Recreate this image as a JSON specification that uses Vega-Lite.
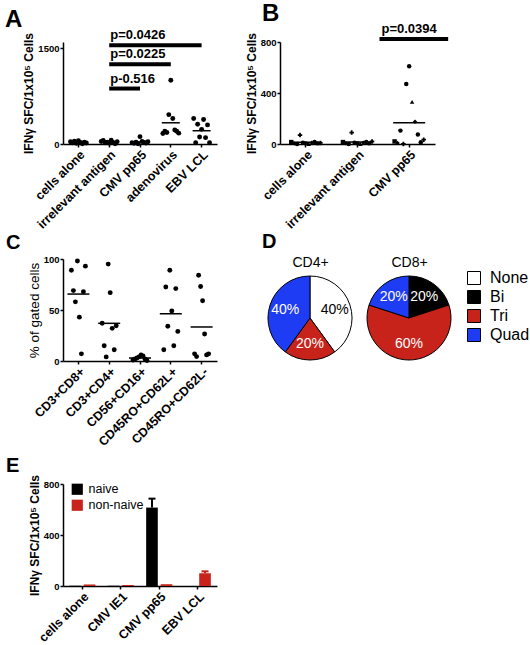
{
 "$schema": "https://vega.github.io/schema/vega-lite/v6.json",
 "background": "white",
 "padding": {"left": 5, "top": 2, "right": 5, "bottom": 2},
 "columns": 2,
 "bounds": "flush",
 "spacing": {"row": 115, "column": 63},
 "resolve": {"scale": {"color": "independent", "fill": "independent", "shape": "independent", "xOffset": "independent", "theta": "independent"}, "legend": {"color": "independent", "fill": "independent"}},
 "datasets": {
  "a": [
   {"cat": "cells alone", "donor": 1, "v": 35}, {"cat": "cells alone", "donor": 2, "v": 20}, {"cat": "cells alone", "donor": 3, "v": 45}, {"cat": "cells alone", "donor": 4, "v": 10}, {"cat": "cells alone", "donor": 5, "v": 50}, {"cat": "cells alone", "donor": 6, "v": 25}, {"cat": "cells alone", "donor": 7, "v": 5}, {"cat": "cells alone", "donor": 8, "v": 30}, {"cat": "cells alone", "donor": 9, "v": 15},
   {"cat": "irrelevant antigen", "donor": 1, "v": 40}, {"cat": "irrelevant antigen", "donor": 2, "v": 55}, {"cat": "irrelevant antigen", "donor": 3, "v": 20}, {"cat": "irrelevant antigen", "donor": 4, "v": 30}, {"cat": "irrelevant antigen", "donor": 5, "v": 10}, {"cat": "irrelevant antigen", "donor": 6, "v": 60}, {"cat": "irrelevant antigen", "donor": 7, "v": 25}, {"cat": "irrelevant antigen", "donor": 8, "v": 5}, {"cat": "irrelevant antigen", "donor": 9, "v": 35},
   {"cat": "CMV pp65", "donor": 1, "v": 20}, {"cat": "CMV pp65", "donor": 2, "v": 10}, {"cat": "CMV pp65", "donor": 3, "v": 30}, {"cat": "CMV pp65", "donor": 4, "v": 5}, {"cat": "CMV pp65", "donor": 5, "v": 115}, {"cat": "CMV pp65", "donor": 6, "v": 40}, {"cat": "CMV pp65", "donor": 7, "v": 25}, {"cat": "CMV pp65", "donor": 8, "v": 15}, {"cat": "CMV pp65", "donor": 9, "v": 35},
   {"cat": "adenovirus", "donor": 1, "v": 165}, {"cat": "adenovirus", "donor": 2, "v": 200}, {"cat": "adenovirus", "donor": 3, "v": 180}, {"cat": "adenovirus", "donor": 4, "v": 460}, {"cat": "adenovirus", "donor": 5, "v": 1000}, {"cat": "adenovirus", "donor": 6, "v": 400}, {"cat": "adenovirus", "donor": 7, "v": 220}, {"cat": "adenovirus", "donor": 8, "v": 200}, {"cat": "adenovirus", "donor": 9, "v": 170},
   {"cat": "EBV LCL", "donor": 1, "v": 400}, {"cat": "EBV LCL", "donor": 2, "v": 20}, {"cat": "EBV LCL", "donor": 3, "v": 310}, {"cat": "EBV LCL", "donor": 4, "v": 110}, {"cat": "EBV LCL", "donor": 5, "v": 230}, {"cat": "EBV LCL", "donor": 6, "v": 385}, {"cat": "EBV LCL", "donor": 7, "v": 100}, {"cat": "EBV LCL", "donor": 8, "v": 300}, {"cat": "EBV LCL", "donor": 9, "v": 20}
  ],
  "sigA": [
   {"from": "irrelevant antigen", "to": "CMV pp65", "val": 870, "label": "p-0.516"},
   {"from": "irrelevant antigen", "to": "adenovirus", "val": 1250, "label": "p=0.0225"},
   {"from": "irrelevant antigen", "to": "EBV LCL", "val": 1550, "label": "p=0.0426"}
  ],
  "b": [
   {"cat": "cells alone", "donor": 1, "v": 15}, {"cat": "cells alone", "donor": 2, "v": 5}, {"cat": "cells alone", "donor": 3, "v": 0}, {"cat": "cells alone", "donor": 4, "v": 70}, {"cat": "cells alone", "donor": 5, "v": 10}, {"cat": "cells alone", "donor": 6, "v": 5}, {"cat": "cells alone", "donor": 7, "v": 0}, {"cat": "cells alone", "donor": 8, "v": 10}, {"cat": "cells alone", "donor": 9, "v": 15}, {"cat": "cells alone", "donor": 10, "v": 5}, {"cat": "cells alone", "donor": 11, "v": 8},
   {"cat": "irrelevant antigen", "donor": 1, "v": 15}, {"cat": "irrelevant antigen", "donor": 2, "v": 5}, {"cat": "irrelevant antigen", "donor": 3, "v": 0}, {"cat": "irrelevant antigen", "donor": 4, "v": 90}, {"cat": "irrelevant antigen", "donor": 5, "v": 10}, {"cat": "irrelevant antigen", "donor": 6, "v": 5}, {"cat": "irrelevant antigen", "donor": 7, "v": 0}, {"cat": "irrelevant antigen", "donor": 8, "v": 10}, {"cat": "irrelevant antigen", "donor": 9, "v": 15}, {"cat": "irrelevant antigen", "donor": 10, "v": 5}, {"cat": "irrelevant antigen", "donor": 11, "v": 20},
   {"cat": "CMV pp65", "donor": 1, "v": 20}, {"cat": "CMV pp65", "donor": 2, "v": 8}, {"cat": "CMV pp65", "donor": 3, "v": 105}, {"cat": "CMV pp65", "donor": 4, "v": 0}, {"cat": "CMV pp65", "donor": 5, "v": 470}, {"cat": "CMV pp65", "donor": 6, "v": 610}, {"cat": "CMV pp65", "donor": 7, "v": 330}, {"cat": "CMV pp65", "donor": 8, "v": 175}, {"cat": "CMV pp65", "donor": 9, "v": 75}, {"cat": "CMV pp65", "donor": 10, "v": 13}, {"cat": "CMV pp65", "donor": 11, "v": 34}
  ],
  "sigB": [
   {"from": "irrelevant antigen", "to": "CMV pp65", "val": 823, "label": "p=0.0394"}
  ],
  "c": [
   {"cat": "CD3+CD8+", "donor": 1, "v": 89}, {"cat": "CD3+CD8+", "donor": 2, "v": 69}, {"cat": "CD3+CD8+", "donor": 3, "v": 58}, {"cat": "CD3+CD8+", "donor": 4, "v": 98}, {"cat": "CD3+CD8+", "donor": 5, "v": 43}, {"cat": "CD3+CD8+", "donor": 6, "v": 7}, {"cat": "CD3+CD8+", "donor": 7, "v": 68}, {"cat": "CD3+CD8+", "donor": 8, "v": 93},
   {"cat": "CD3+CD4+", "donor": 1, "v": 37}, {"cat": "CD3+CD4+", "donor": 2, "v": 15}, {"cat": "CD3+CD4+", "donor": 3, "v": 4}, {"cat": "CD3+CD4+", "donor": 4, "v": 95}, {"cat": "CD3+CD4+", "donor": 5, "v": 67}, {"cat": "CD3+CD4+", "donor": 6, "v": 32}, {"cat": "CD3+CD4+", "donor": 7, "v": 11}, {"cat": "CD3+CD4+", "donor": 8, "v": 34.5},
   {"cat": "CD56+CD16+", "donor": 1, "v": 1}, {"cat": "CD56+CD16+", "donor": 2, "v": 2}, {"cat": "CD56+CD16+", "donor": 3, "v": 3}, {"cat": "CD56+CD16+", "donor": 4, "v": 4}, {"cat": "CD56+CD16+", "donor": 5, "v": 6}, {"cat": "CD56+CD16+", "donor": 6, "v": 5}, {"cat": "CD56+CD16+", "donor": 7, "v": 2}, {"cat": "CD56+CD16+", "donor": 8, "v": 0.5},
   {"cat": "CD45RO+CD62L+", "donor": 1, "v": 11}, {"cat": "CD45RO+CD62L+", "donor": 2, "v": 72.5}, {"cat": "CD45RO+CD62L+", "donor": 3, "v": 34}, {"cat": "CD45RO+CD62L+", "donor": 4, "v": 89}, {"cat": "CD45RO+CD62L+", "donor": 5, "v": 49}, {"cat": "CD45RO+CD62L+", "donor": 6, "v": 15}, {"cat": "CD45RO+CD62L+", "donor": 7, "v": 71}, {"cat": "CD45RO+CD62L+", "donor": 8, "v": 29},
   {"cat": "CD45RO+CD62L-", "donor": 1, "v": 7}, {"cat": "CD45RO+CD62L-", "donor": 2, "v": 4.3}, {"cat": "CD45RO+CD62L-", "donor": 3, "v": 84}, {"cat": "CD45RO+CD62L-", "donor": 4, "v": 73}, {"cat": "CD45RO+CD62L-", "donor": 5, "v": 59}, {"cat": "CD45RO+CD62L-", "donor": 6, "v": 26.5}, {"cat": "CD45RO+CD62L-", "donor": 7, "v": 6}, {"cat": "CD45RO+CD62L-", "donor": 8, "v": 7}
  ],
  "d": [
   {"cell": "CD4+", "func": "None", "pct": 0.4, "idx": 1},
   {"cell": "CD4+", "func": "Tri", "pct": 0.2, "idx": 3},
   {"cell": "CD4+", "func": "Quad", "pct": 0.4, "idx": 4},
   {"cell": "CD8+", "func": "Bi", "pct": 0.2, "idx": 2},
   {"cell": "CD8+", "func": "Tri", "pct": 0.6, "idx": 3},
   {"cell": "CD8+", "func": "Quad", "pct": 0.2, "idx": 4}
  ],
  "e": [
   {"cat": "cells alone", "type": "naive", "v": 2}, {"cat": "cells alone", "type": "non-naive", "v": 12},
   {"cat": "CMV IE1", "type": "naive", "v": 2}, {"cat": "CMV IE1", "type": "non-naive", "v": 8},
   {"cat": "CMV pp65", "type": "naive", "v": 615, "hi": 685}, {"cat": "CMV pp65", "type": "non-naive", "v": 14},
   {"cat": "EBV LCL", "type": "naive", "v": 0}, {"cat": "EBV LCL", "type": "non-naive", "v": 100, "hi": 115}
  ]
 },
 "concat": [
  {
   "width": 154, "height": 102,
   "title": {"text": "A", "dx": -58, "offset": -3, "fontSize": 24},
   "layer": [
    {"data": {"name": "a"}, "mark": {"type": "circle", "size": 24, "color": "black", "opacity": 1},
     "encoding": {
      "x": {"field": "cat", "type": "nominal", "scale": {"domain": ["cells alone", "irrelevant antigen", "CMV pp65", "adenovirus", "EBV LCL"], "paddingInner": 0.42, "paddingOuter": 0.21}, "axis": {"title": null}},
      "xOffset": {"field": "donor", "type": "ordinal"},
      "y": {"field": "v", "type": "quantitative", "scale": {"domain": [0, 1500]}, "axis": {"values": [0, 500, 1000, 1500], "format": "d", "title": "IFNγ SFC/1x10⁵ Cells"}}
     }},
    {"data": {"name": "a"}, "mark": {"type": "tick", "size": 18, "thickness": 1.5, "color": "black"},
     "encoding": {"x": {"field": "cat", "type": "nominal"}, "y": {"aggregate": "mean", "field": "v", "type": "quantitative"}}},
    {"data": {"name": "sigA"}, "mark": {"type": "rule", "strokeWidth": 4, "color": "black"},
     "encoding": {"x": {"field": "from", "type": "nominal"}, "x2": {"field": "to"}, "y": {"field": "val", "type": "quantitative"}}},
    {"data": {"name": "sigA"}, "mark": {"type": "text", "align": "left", "baseline": "bottom", "dy": -3, "dx": 1, "fontSize": 13, "fontWeight": "bold", "color": "black"},
     "encoding": {"x": {"field": "from", "type": "nominal"}, "y": {"field": "val", "type": "quantitative"}, "text": {"field": "label"}}}
   ]
  },
  {
   "width": 155, "height": 102,
   "title": {"text": "B", "dx": -18, "offset": -3, "fontSize": 24},
   "layer": [
    {"data": {"name": "b"}, "mark": {"type": "point", "filled": true, "size": 20, "color": "black", "opacity": 1},
     "encoding": {
      "x": {"field": "cat", "type": "nominal", "scale": {"domain": ["cells alone", "irrelevant antigen", "CMV pp65"], "paddingInner": 0.38, "paddingOuter": 0.19}, "axis": {"title": null}},
      "xOffset": {"field": "donor", "type": "ordinal"},
      "y": {"field": "v", "type": "quantitative", "scale": {"domain": [0, 800]}, "axis": {"values": [0, 200, 400, 600, 800], "title": "IFNγ SFC/1x10⁵ Cells"}},
      "shape": {"field": "donor", "type": "ordinal", "scale": {"range": ["square", "diamond", "circle", "cross", "circle", "circle", "triangle-up", "diamond", "circle", "circle", "cross"]}, "legend": null}
     }},
    {"data": {"name": "b"}, "mark": {"type": "tick", "size": 32, "thickness": 1.5, "color": "black"},
     "encoding": {"x": {"field": "cat", "type": "nominal"}, "y": {"aggregate": "mean", "field": "v", "type": "quantitative"}}},
    {"data": {"name": "sigB"}, "mark": {"type": "rule", "strokeWidth": 4, "color": "black", "xOffset": 22, "x2Offset": 39},
     "encoding": {"x": {"field": "from", "type": "nominal"}, "x2": {"field": "to"}, "y": {"field": "val", "type": "quantitative"}}},
    {"data": {"name": "sigB"}, "mark": {"type": "text", "align": "left", "baseline": "bottom", "dy": -3, "dx": 24, "fontSize": 13, "fontWeight": "bold", "color": "black"},
     "encoding": {"x": {"field": "from", "type": "nominal"}, "y": {"field": "val", "type": "quantitative"}, "text": {"field": "label"}}}
   ]
  },
  {
   "width": 154, "height": 102,
   "title": {"text": "C", "dx": -57, "offset": 1, "fontSize": 20},
   "data": {"name": "c"},
   "layer": [
    {"mark": {"type": "circle", "size": 24, "color": "black", "opacity": 1},
     "encoding": {
      "x": {"field": "cat", "type": "nominal", "scale": {"domain": ["CD3+CD8+", "CD3+CD4+", "CD56+CD16+", "CD45RO+CD62L+", "CD45RO+CD62L-"], "paddingInner": 0.48, "paddingOuter": 0.24}, "axis": {"title": null}},
      "xOffset": {"field": "donor", "type": "ordinal"},
      "y": {"field": "v", "type": "quantitative", "scale": {"domain": [0, 100]}, "axis": {"values": [0, 50, 100], "title": "% of gated cells", "titleFontWeight": "normal", "titleFontSize": 13.5}}
     }},
    {"mark": {"type": "tick", "size": 22, "thickness": 1.5, "color": "black"},
     "encoding": {"x": {"field": "cat", "type": "nominal"}, "y": {"aggregate": "mean", "field": "v", "type": "quantitative"}}}
   ]
  },
  {
   "width": 159, "height": 110,
   "title": {"text": "D", "dx": -18, "offset": 3, "fontSize": 20},
   "data": {"name": "d"},
   "encoding": {"x": {"field": "cell", "type": "nominal", "scale": {"type": "point", "padding": 0.303}, "axis": {"orient": "top", "title": null, "domain": false, "ticks": false, "labelAngle": 0, "labelFontSize": 14, "labelFontWeight": "normal", "offset": -12, "labelPadding": 2}}},
   "layer": [
    {"transform": [{"filter": "datum.cell === 'CD4+'"}],
     "mark": {"type": "arc", "outerRadius": 42, "stroke": "black", "strokeWidth": 1, "yOffset": 4},
     "encoding": {"theta": {"field": "pct", "type": "quantitative", "stack": true}, "order": {"field": "idx"},
      "fill": {"field": "func", "type": "nominal", "scale": {"domain": ["None", "Bi", "Tri", "Quad"], "range": ["white", "black", "#c8231b", "#1f3cf5"]},
       "legend": {"title": null, "orient": "none", "legendX": 186, "legendY": 11, "symbolType": "square", "symbolSize": 169, "symbolStrokeColor": "black", "symbolStrokeWidth": 1, "symbolOpacity": 1, "labelFontSize": 16, "labelOffset": 8, "rowPadding": 1}}}},
    {"transform": [{"filter": "datum.cell === 'CD4+'"}],
     "mark": {"type": "text", "radius": 26, "fontSize": 14, "yOffset": 4},
     "encoding": {"theta": {"field": "pct", "type": "quantitative", "stack": true}, "order": {"field": "idx"}, "text": {"field": "pct", "type": "quantitative", "format": ".0%"},
      "color": {"condition": {"test": "datum.func === 'None'", "value": "black"}, "value": "white"}}},
    {"transform": [{"filter": "datum.cell === 'CD8+'"}],
     "mark": {"type": "arc", "outerRadius": 42, "stroke": "black", "strokeWidth": 1, "yOffset": 4},
     "encoding": {"theta": {"field": "pct", "type": "quantitative", "stack": true}, "order": {"field": "idx"},
      "fill": {"field": "func", "type": "nominal"}}},
    {"transform": [{"filter": "datum.cell === 'CD8+'"}],
     "mark": {"type": "text", "radius": 26, "fontSize": 14, "yOffset": 4},
     "encoding": {"theta": {"field": "pct", "type": "quantitative", "stack": true}, "order": {"field": "idx"}, "text": {"field": "pct", "type": "quantitative", "format": ".0%"},
      "color": {"condition": {"test": "datum.func === 'None'", "value": "black"}, "value": "white"}}}
   ]
  },
  {
   "width": 154, "height": 102,
   "title": {"text": "E", "dx": -57, "offset": -2, "fontSize": 20},
   "data": {"name": "e"},
   "encoding": {
    "x": {"field": "cat", "type": "nominal", "scale": {"domain": ["cells alone", "CMV IE1", "CMV pp65", "EBV LCL"], "paddingInner": 0.32, "paddingOuter": 0.16}, "axis": {"title": null}},
    "xOffset": {"field": "type", "type": "nominal", "scale": {"paddingInner": 0.2, "paddingOuter": 0}},
    "color": {"field": "type", "type": "nominal", "scale": {"domain": ["naive", "non-naive"], "range": ["black", "#c8231b"]},
     "legend": {"title": null, "orient": "none", "legendX": 8, "legendY": -1, "symbolType": "square", "symbolSize": 125, "symbolStrokeWidth": 0, "symbolOpacity": 1, "labelFontSize": 12.5, "labelOffset": 5, "rowPadding": 3}}
   },
   "layer": [
    {"mark": {"type": "bar", "opacity": 1}, "encoding": {"y": {"field": "v", "type": "quantitative", "scale": {"domain": [0, 800]}, "axis": {"values": [0, 200, 400, 600, 800], "title": "IFNγ SFC/1x10⁵ Cells"}}}},
    {"transform": [{"filter": "isValid(datum.hi)"}], "mark": {"type": "rule", "strokeWidth": 2, "opacity": 1}, "encoding": {"y": {"field": "v", "type": "quantitative"}, "y2": {"field": "hi"}}},
    {"transform": [{"filter": "isValid(datum.hi)"}], "mark": {"type": "tick", "size": 7, "thickness": 2, "opacity": 1}, "encoding": {"y": {"field": "hi", "type": "quantitative"}}}
   ]
  }
 ],
 "config": {
  "font": "Liberation Sans",
  "view": {"stroke": null},
  "title": {"fontSize": 24, "fontWeight": "bold", "anchor": "start", "frame": "group", "color": "black", "font": "Liberation Sans"},
  "axis": {"domainColor": "black", "domainWidth": 1.5, "tickColor": "black", "tickWidth": 1.5, "tickSize": 3, "labelColor": "black", "labelFontWeight": "bold", "labelFont": "Liberation Sans", "titleFont": "Liberation Sans", "titleFontWeight": "bold", "titleColor": "black", "grid": false, "labelPadding": 1, "titlePadding": 2, "labelFontSize": 9.5, "titleFontSize": 12},
  "axisX": {"labelAngle": -45, "labelFontSize": 12.5},
  "axisBand": {"labelFontSize": 12.5},
  "legend": {"labelFont": "Liberation Sans", "labelColor": "black"}
 }
}
